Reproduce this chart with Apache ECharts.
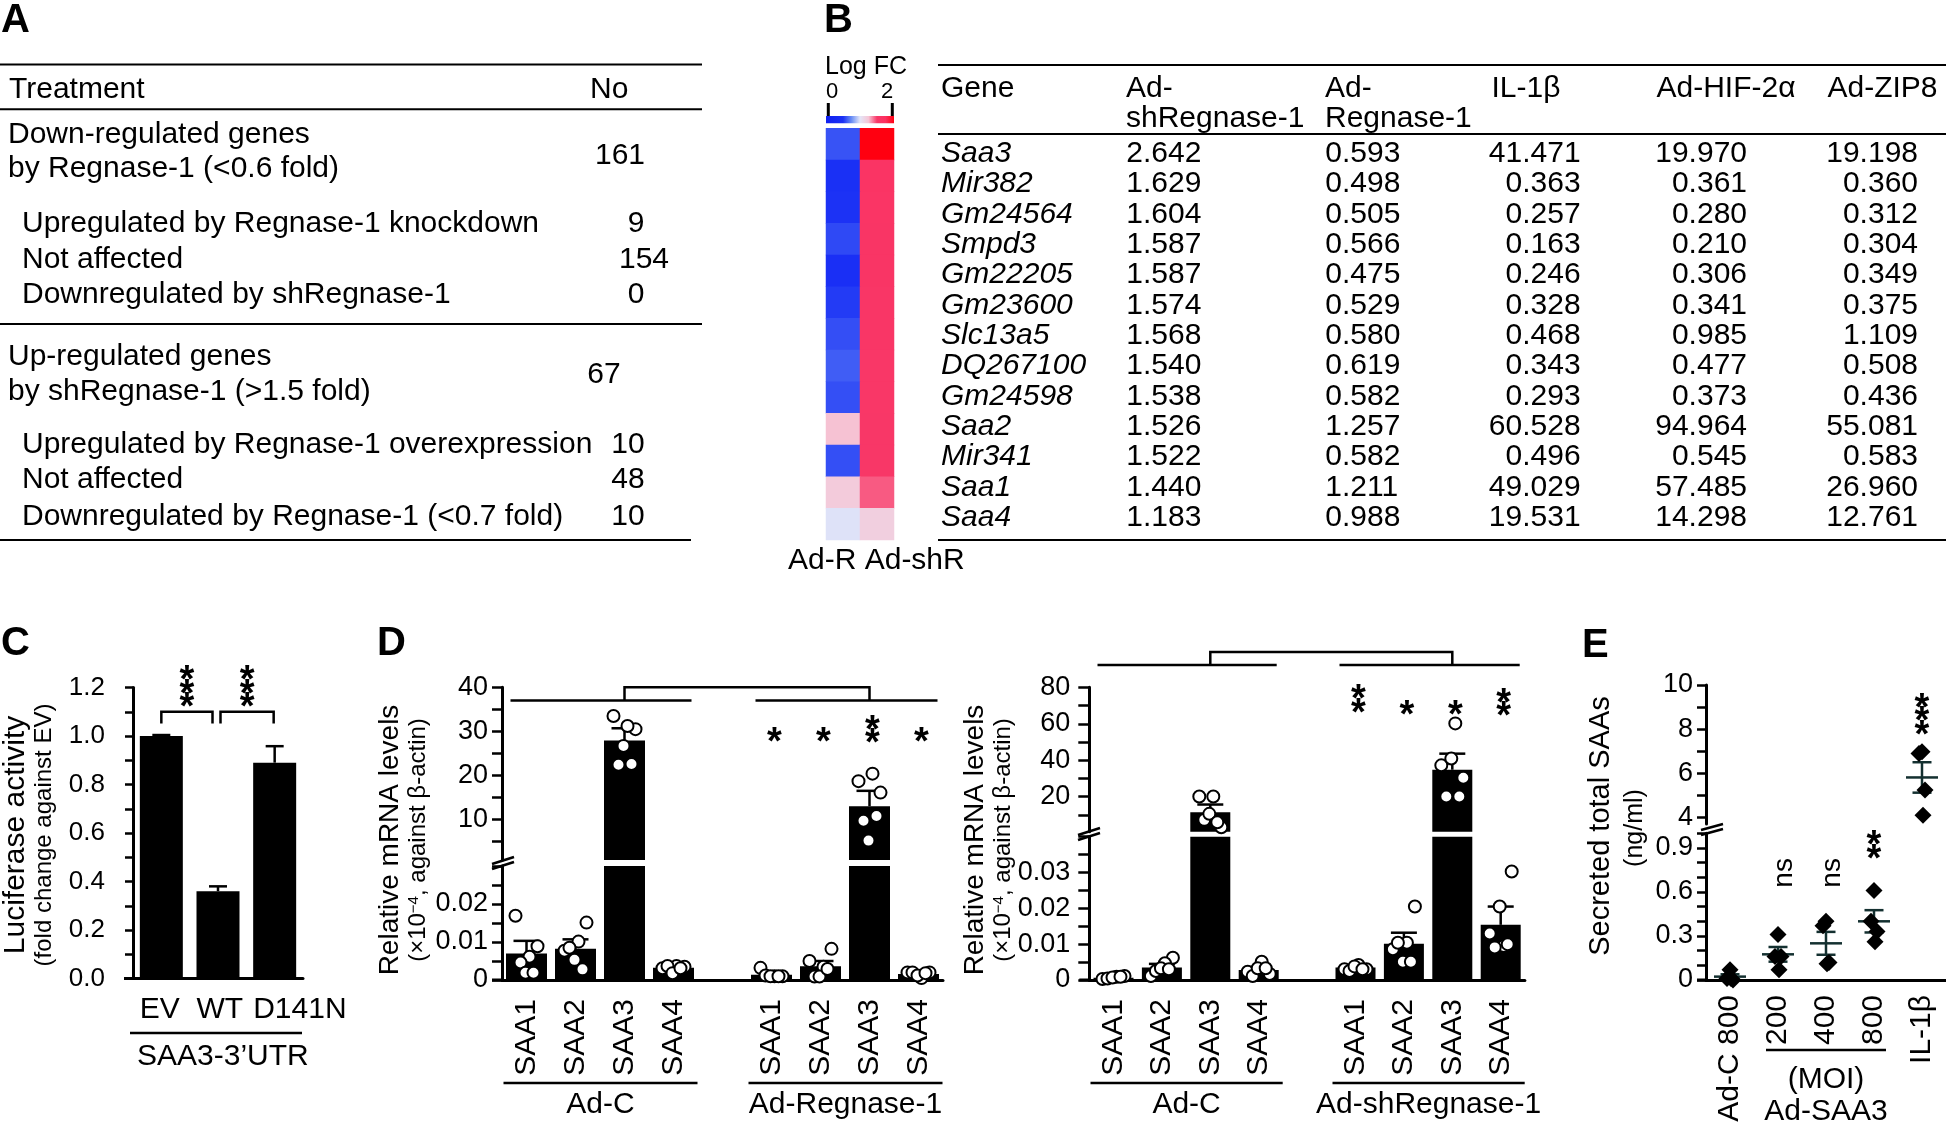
<!DOCTYPE html>
<html><head><meta charset="utf-8">
<script src="https://cdn.jsdelivr.net/npm/echarts@6/dist/echarts.min.js"></script>
<style>html,body{margin:0;padding:0;background:#fff}#c{width:1946px;height:1127px}</style>
</head><body><div id="c"></div>
<script>
// ================= DATA =================
// Panel A table
const aHeader = ['Treatment', 'No'];
const aGroupTitles = [['Down-regulated genes', 'by Regnase-1 (<0.6 fold)'], ['Up-regulated genes', 'by shRegnase-1 (>1.5 fold)']];
const aGroupTotals = ['161', '67'];
const aSubLabels = [['Upregulated by Regnase-1 knockdown', 'Not affected', 'Downregulated by shRegnase-1'],
                    ['Upregulated by Regnase-1 overexpression', 'Not affected', 'Downregulated by Regnase-1 (<0.7 fold)']];
const aSubCounts = [['9', '154', '0'], ['10', '48', '10']];

// Panel B table + heatmap
const bHeaders = [['Gene'], ['Ad-', 'shRegnase-1'], ['Ad-', 'Regnase-1'], ['IL-1β'], ['Ad-HIF-2α'], ['Ad-ZIP8']];
const genes = ['Saa3', 'Mir382', 'Gm24564', 'Smpd3', 'Gm22205', 'Gm23600', 'Slc13a5', 'DQ267100', 'Gm24598', 'Saa2', 'Mir341', 'Saa1', 'Saa4'];
const adShRegnase = [2.642, 1.629, 1.604, 1.587, 1.587, 1.574, 1.568, 1.540, 1.538, 1.526, 1.522, 1.440, 1.183];
const adRegnase = [0.593, 0.498, 0.505, 0.566, 0.475, 0.529, 0.580, 0.619, 0.582, 1.257, 0.582, 1.211, 0.988];
const il1b = [41.471, 0.363, 0.257, 0.163, 0.246, 0.328, 0.468, 0.343, 0.293, 60.528, 0.496, 49.029, 19.531];
const adHif2a = [19.970, 0.361, 0.280, 0.210, 0.306, 0.341, 0.985, 0.477, 0.373, 94.964, 0.545, 57.485, 14.298];
const adZip8 = [19.198, 0.360, 0.312, 0.304, 0.349, 0.375, 1.109, 0.508, 0.436, 55.081, 0.583, 26.960, 12.761];
const heatCols = ['Ad-R', 'Ad-shR'];

// Panel C
const cCats = ['EV', 'WT', 'D141N'];
const cMeans = [1.0, 0.36, 0.89];
const cErr = [0.004, 0.02, 0.068];

// Panel D (categories: 4 Ad-C, gap, 4 treated)
const dCats = ['SAA1', 'SAA2', 'SAA3', 'SAA4', '', 'SAA1', 'SAA2', 'SAA3', 'SAA4'];
const dLeftMeans = [0.0070, 0.0082, 27.9, 0.0032, null, 0.0014, 0.0036, 13.0, 0.0016];
const dLeftSem = [0.0033, 0.0025, 2.8, 0.0004, null, 0.0004, 0.0014, 3.5, 0.0003];
const dLeftPoints = [
  [0.0169, 0.0089, 0.0061, 0.0046, 0.0019, 0.0019],
  [0.0077, 0.0151, 0.0101, 0.0085, 0.0053, 0.0028],
  [33.5, 30.5, 31.2, 22.4, 26.7, 22.6],
  [0.0031, 0.0035, 0.0037, 0.0037, 0.0018, 0.0031],
  [],
  [0.0032, 0.0010, 0.0010, 0.0012, 0.0010, 0.0010],
  [0.0050, 0.0082, 0.0035, 0.0009, 0.0009, 0.0029],
  [18.7, 16.1, 20.4, 9.7, 5.2, 10.8],
  [0.0020, 0.0020, 0.0005, 0.0020, 0.0012, 0.0018]
];
const dRightMeans = [0.0006, 0.0035, 11.5, 0.0028, null, 0.0035, 0.0101, 34.8, 0.0154];
const dRightSem = [0.0002, 0.0010, 4.2, 0.0006, null, 0.0003, 0.0031, 8.8, 0.0051];
const dRightPoints = [
  [0.0003, 0.0011, 0.0009, 0.0004, 0.0007, 0.0009],
  [0.0011, 0.0062, 0.0047, 0.0025, 0.0033, 0.0030],
  [20.1, 3.2, 20.1, 7.3, 10.6, 6.0],
  [0.0023, 0.0017, 0.0051, 0.0011, 0.0033, 0.0033],
  [],
  [0.0030, 0.0030, 0.0042, 0.0025, 0.0038, 0.0030],
  [0.0086, 0.0205, 0.0104, 0.0104, 0.0051, 0.0051],
  [37.2, 30.4, 60.2, 20.1, 40.9, 20.1],
  [0.0130, 0.0303, 0.0095, 0.0091, 0.0205, 0.0100]
];

// Panel E
const eCats = ['Ad-C 800', '200', '400', '800', 'IL-1β'];
const ePoints = [[0.07, 0.01, 0.0, 0.01], [0.31, 0.16, 0.16, 0.07], [0.40, 0.37, 0.12, 0.11], [0.61, 0.40, 0.33, 0.26], [6.97, 6.90, 5.24, 4.10]];
const eMeans = [0.023, 0.175, 0.25, 0.40, 5.81];
const eSem = [0.016, 0.05, 0.078, 0.076, 0.69];

// ================= STYLE / LAYOUT =================
const FF = '"Liberation Sans", Arial, Helvetica, sans-serif';
const FS = 30;
const HEAT_COLORS = ['#1020f0', '#1528f2', '#1a30f5', '#6a8ef5', '#e4e6f8', '#f6c6d6', '#f83868', '#fc3060', '#ff0010'];
const JIT = [-11, 11, 3, -6, -1, 7];
const EJIT = [0, -3, 3, 1];
const range = (a, b, s) => { const r = []; for (let v = a; v <= b + 1e-9; v += s) r.push(Math.round(v * 1000) / 1000); return r; };

const chart = echarts.init(document.getElementById('c'));

const grids = [
  { left: 133, top: 687.5, width: 170, height: 291 },        // 0 C
  { left: 502, top: 687.3, width: 441, height: 172.7 },      // 1 D-left upper
  { left: 502, top: 866, width: 441, height: 114 },          // 2 D-left lower
  { left: 1089.3, top: 687.3, width: 435.6, height: 144.4 }, // 3 D-right upper
  { left: 1089.3, top: 836.7, width: 435.6, height: 143.3 }, // 4 D-right lower
  { left: 1706, top: 685, width: 240, height: 139 },         // 5 E upper
  { left: 1706, top: 833.3, width: 240, height: 146.7 },     // 6 E lower
  { left: 826, top: 128.3, width: 68, height: 411.7 }        // 7 heatmap
].map(g => Object.assign({ containLabel: false, outerBoundsMode: 'none' }, g));

function valAxis(g, min, max, o) {
  const ax = {
    type: 'value', gridIndex: g, min: min, max: max, splitLine: { show: false },
    axisLine: { show: true, lineStyle: { color: '#000', width: 3 } },
    axisTick: { show: true, length: o.tickLen, lineStyle: { color: '#000', width: 2.5 } },
    axisLabel: { show: true, color: '#000', fontSize: o.fs, fontFamily: FF, margin: o.margin,
      formatter: o.fmt || (v => String(v)), showMaxLabel: o.showMax !== false }
  };
  if (o.interval) ax.interval = o.interval;
  if (o.minor) ax.minorTick = { show: true, splitNumber: o.minor, length: o.tickLen, lineStyle: { color: '#000', width: 2.5 } };
  if (o.ticks) ax.axisTick.customValues = o.ticks;
  if (o.labels) ax.axisLabel.customValues = o.labels;
  return ax;
}
function catAxis(g, cats, show, o) {
  o = o || {};
  return {
    type: 'category', gridIndex: g, data: cats.map((c, i) => i + '|' + c), show: show,
    axisLine: { show: true, onZero: false, lineStyle: { color: '#000', width: 3 } },
    axisTick: { show: false },
    axisLabel: { show: !!o.labels, interval: 0, rotate: 90, margin: o.margin || 19, fontSize: FS, fontFamily: FF, color: '#000',
      formatter: v => v.split('|')[1] }
  };
}

const xAxes = [
  catAxis(0, cCats, true),
  catAxis(1, dCats, false),
  catAxis(2, dCats, true, { labels: true, margin: 19 }),
  catAxis(3, dCats, false),
  catAxis(4, dCats, true, { labels: true, margin: 19 }),
  catAxis(5, eCats, false),
  catAxis(6, eCats, true, { labels: true, margin: 15 }),
  { type: 'category', gridIndex: 7, data: heatCols, show: false }
];
const lowFmt = v => (v === 0 ? '0' : String(Math.round(v * 1000) / 1000));
const yAxes = [
  valAxis(0, 0, 1.2, { tickLen: 8, fs: 26, margin: 28, interval: 0.2, minor: 2, fmt: v => v.toFixed(1) }),
  valAxis(1, 0.8, 40, { tickLen: 10, fs: 27, margin: 14, ticks: range(5, 40, 5), labels: [10, 20, 30, 40] }),
  valAxis(2, 0, 0.03, { tickLen: 10, fs: 27, margin: 14, interval: 0.01, minor: 2, showMax: false, fmt: lowFmt }),
  valAxis(3, 0.8, 80, { tickLen: 11, fs: 27, margin: 19, ticks: range(10, 80, 10), labels: [20, 40, 60, 80] }),
  valAxis(4, 0, 0.04, { tickLen: 11, fs: 27, margin: 19, interval: 0.01, minor: 2, showMax: false, fmt: lowFmt }),
  valAxis(5, 3.7, 10, { tickLen: 9, fs: 27, margin: 13, ticks: range(4, 10, 1), labels: [4, 6, 8, 10] }),
  valAxis(6, 0, 1.0, { tickLen: 9, fs: 27, margin: 13, ticks: range(0, 1.0, 0.1), labels: [0, 0.3, 0.6, 0.9],
    fmt: v => (v === 0 ? '0' : v.toFixed(1)) }),
  { type: 'category', gridIndex: 7, data: genes, inverse: true, show: false }
];

function errBar(capW) {
  return function (params, api) {
    const x = api.value(0), m = api.value(1), e = api.value(2);
    const p0 = api.coord([x, m]), p1 = api.coord([x, m + e]);
    return { type: 'group', children: [
      { type: 'line', shape: { x1: p0[0], y1: p0[1], x2: p1[0], y2: p1[1] }, style: { stroke: '#000', lineWidth: 2.5 } },
      { type: 'line', shape: { x1: p1[0] - capW / 2, y1: p1[1], x2: p1[0] + capW / 2, y2: p1[1] }, style: { stroke: '#000', lineWidth: 2.5 } }
    ] };
  };
}
function meanSem(meanW, capW) {
  return function (params, api) {
    const i = api.value(0), m = api.value(1), s = api.value(2);
    const pm = api.coord([i, m]), pt = api.coord([i, m + s]), pb = api.coord([i, Math.max(0, m - s)]);
    const st = { stroke: '#143030', lineWidth: 2.5 };
    return { type: 'group', children: [
      { type: 'line', shape: { x1: pm[0] - meanW / 2, y1: pm[1], x2: pm[0] + meanW / 2, y2: pm[1] }, style: st },
      { type: 'line', shape: { x1: pt[0], y1: pt[1], x2: pb[0], y2: pb[1] }, style: st },
      { type: 'line', shape: { x1: pt[0] - capW / 2, y1: pt[1], x2: pt[0] + capW / 2, y2: pt[1] }, style: st },
      { type: 'line', shape: { x1: pb[0] - capW / 2, y1: pb[1], x2: pb[0] + capW / 2, y2: pb[1] }, style: st }
    ] };
  };
}

const series = [];
const BLACK = { color: '#000' };
// Panel C
series.push({ type: 'bar', xAxisIndex: 0, yAxisIndex: 0, data: cMeans, barWidth: 43, itemStyle: BLACK });
series.push({ type: 'custom', xAxisIndex: 0, yAxisIndex: 0, renderItem: errBar(18), data: cMeans.map((m, i) => [i, m, cErr[i]]) });

// Panel D
function dPanel(means, sems, points, gUp, gLow, upMin, lowMax, barW) {
  [gUp, gLow].forEach(g => series.push({ type: 'bar', xAxisIndex: g, yAxisIndex: g, data: means, barWidth: barW, itemStyle: BLACK }));
  const eUp = [], eLow = [], pUp = [], pLow = [];
  means.forEach((m, i) => {
    if (m === null) return;
    (m >= upMin ? eUp : eLow).push([i, m, sems[i]]);
    points[i].forEach((v, k) => {
      const item = { value: [i, v], symbolOffset: [JIT[k % JIT.length], 0] };
      if (v >= upMin) pUp.push(item); else if (v <= lowMax) pLow.push(item);
    });
  });
  series.push({ type: 'custom', xAxisIndex: gUp, yAxisIndex: gUp, renderItem: errBar(26), data: eUp });
  series.push({ type: 'custom', xAxisIndex: gLow, yAxisIndex: gLow, renderItem: errBar(26), data: eLow });
  [[gUp, pUp], [gLow, pLow]].forEach(([g, d]) => series.push({
    type: 'scatter', xAxisIndex: g, yAxisIndex: g, data: d, symbol: 'circle', symbolSize: 12,
    itemStyle: { color: '#fff', borderColor: '#000', borderWidth: 2, opacity: 1 }
  }));
}
dPanel(dLeftMeans, dLeftSem, dLeftPoints, 1, 2, 0.8, 0.03, 41);
dPanel(dRightMeans, dRightSem, dRightPoints, 3, 4, 0.8, 0.04, 40);

// Panel E
(function () {
  const mUp = [], mLow = [], pUp = [], pLow = [];
  eMeans.forEach((m, i) => {
    (m >= 3.7 ? mUp : mLow).push([i, m, eSem[i]]);
    ePoints[i].forEach((v, k) => {
      const item = { value: [i, v], symbolOffset: [EJIT[k % EJIT.length], 0] };
      if (v >= 3.7) pUp.push(item); else pLow.push(item);
    });
  });
  series.push({ type: 'custom', xAxisIndex: 5, yAxisIndex: 5, renderItem: meanSem(32, 19), data: mUp });
  series.push({ type: 'custom', xAxisIndex: 6, yAxisIndex: 6, renderItem: meanSem(32, 19), data: mLow });
  [[5, pUp], [6, pLow]].forEach(([g, d]) => series.push({
    type: 'scatter', xAxisIndex: g, yAxisIndex: g, data: d, symbol: 'diamond', symbolSize: 17,
    itemStyle: { color: '#000', opacity: 1 }
  }));
})();

// Heatmap
const heatData = [];
genes.forEach((g, i) => { heatData.push([0, i, adRegnase[i]]); heatData.push([1, i, adShRegnase[i]]); });
const heatIndex = series.length;
series.push({ type: 'heatmap', xAxisIndex: 7, yAxisIndex: 7, data: heatData, itemStyle: { borderWidth: 0 } });

chart.setOption({
  animation: false,
  backgroundColor: '#fff',
  textStyle: { fontFamily: FF },
  grid: grids, xAxis: xAxes, yAxis: yAxes, series: series,
  visualMap: [{ type: 'continuous', show: false, min: 0, max: 2, dimension: 2, seriesIndex: heatIndex, inRange: { color: HEAT_COLORS } }]
});

// ================= ANNOTATIONS / TABLES =================
function T(x, y, text, o) {
  o = o || {};
  const st = { text: text, fill: '#000', fontSize: o.size || FS, fontFamily: FF,
    fontStyle: o.italic ? 'italic' : 'normal', fontWeight: o.bold ? 'bold' : 'normal',
    align: o.align || 'left', verticalAlign: o.va || 'middle', textAlign: o.align || 'left', textVerticalAlign: o.va || 'middle' };
  if (o.rich) st.rich = o.rich;
  return { type: 'text', x: x, y: y, rotation: o.rot || 0, z: 100, silent: true, style: st };
}
function L(x1, y1, x2, y2, w) { return { type: 'line', z: 100, silent: true, shape: { x1, y1, x2, y2 }, style: { stroke: '#000', lineWidth: w || 2.5 } }; }
function PL(points, w) { return { type: 'polyline', z: 100, silent: true, shape: { points }, style: { stroke: '#000', lineWidth: w || 2.5, fill: null } }; }
const P = (g, x, y) => chart.convertToPixel({ gridIndex: g }, [x, y]);
const R90 = Math.PI / 2;
const G = [];
// vertical stack of asterisks centred on (x, yc)
function stars(x, yc, n) {
  const pitch = 13.5;
  for (let i = 0; i < n; i++) {
    G.push(T(x, yc + (i - (n - 1) / 2) * pitch + 10, '*', { size: 38, bold: true, align: 'center' }));
  }
}

// Panel letters
G.push(T(1, 21, 'A', { size: 40, bold: true }), T(824, 21, 'B', { size: 40, bold: true }),
       T(1, 644, 'C', { size: 40, bold: true }), T(377, 644, 'D', { size: 40, bold: true }), T(1582, 646, 'E', { size: 40, bold: true }));

// ---- Table A ----
[64.5, 109.2, 324].forEach(y => G.push(L(0, y, 702, y, 2)));
G.push(L(0, 540, 691, 540, 2));
G.push(T(9, 89.5, aHeader[0]), T(590, 89.5, aHeader[1]));
const aTitleY = [[135, 168.4], [356.8, 392]], aTotalY = [155.4, 374.4], aTotalX = [620, 604];
const aSubY = [[224, 259.3, 295.2], [444.9, 480.1, 517]];
const aCountX = [[636, 644, 636], [628, 628, 628]];
aGroupTitles.forEach((lines, gi) => {
  lines.forEach((s, li) => G.push(T(8, aTitleY[gi][li], s)));
  G.push(T(aTotalX[gi], aTotalY[gi], aGroupTotals[gi], { align: 'center' }));
  aSubLabels[gi].forEach((s, k) => {
    G.push(T(22, aSubY[gi][k], s));
    G.push(T(aCountX[gi][k], aSubY[gi][k], aSubCounts[gi][k], { align: 'center' }));
  });
});

// ---- Table B ----
[65, 134, 540].forEach(y => G.push(L(938, y, 1946, y, 2)));
const bHeadX = [941, 1126, 1325, 1491.5, 1656.5, 1827.5];
bHeaders.forEach((lines, c) => lines.forEach((s, li) => G.push(T(bHeadX[c], li ? 118.6 : 88.5, s))));
const rowY = i => 153.7 + i * 30.34;
const fmt3 = v => v.toFixed(3);
genes.forEach((g, i) => {
  const y = rowY(i);
  G.push(T(941, y, g, { italic: true }));
  G.push(T(1126.3, y, fmt3(adShRegnase[i])));
  G.push(T(1325.3, y, fmt3(adRegnase[i])));
  G.push(T(1580.6, y, fmt3(il1b[i]), { align: 'right' }));
  G.push(T(1747, y, fmt3(adHif2a[i]), { align: 'right' }));
  G.push(T(1918, y, fmt3(adZip8[i]), { align: 'right' }));
});
// heatmap legend
G.push(T(825, 67.5, 'Log FC', { size: 25 }), T(826, 92, '0', { size: 22 }), T(881, 92, '2', { size: 22 }));
G.push(L(828.3, 103, 828.3, 116, 3), L(892.3, 103, 892.3, 116, 3));
G.push({ type: 'rect', z: 100, silent: true, shape: { x: 826, y: 116, width: 68, height: 7.3 },
  style: { fill: { type: 'linear', x: 0, y: 0, x2: 1, y2: 0,
    colorStops: HEAT_COLORS.map((c, i) => ({ offset: i / (HEAT_COLORS.length - 1), color: c })) } } });
G.push(T(788, 561, heatCols[0] + ' ' + heatCols[1]));

// ---- Panel C ----
{
  const yTop = P(0, 0, 1.1)[1], yLeg = P(0, 0, 1.052)[1], yStar = P(0, 0, 1.21)[1];
  const x0 = P(0, 0, 0)[0], x1 = P(0, 1, 0)[0], x2 = P(0, 2, 0)[0];
  const b1 = [x0, x1 - 5.5], b2 = [x1 + 2.5, x2 - 1];
  [b1, b2].forEach(b => {
    G.push(PL([[b[0], yLeg], [b[0], yTop], [b[1], yTop], [b[1], yLeg]]));
    stars((b[0] + b[1]) / 2, yStar, 3);
  });
  cCats.forEach((c, i) => G.push(T(P(0, i, 0)[0] - 21.5, 1010, c)));
  G.push(L(130, 1033, 302, 1033, 2.5), T(137, 1057, 'SAA3-3’UTR'));
  G.push(L(124, 978.5, 133, 978.5, 3));
  G.push(T(16, 835, 'Luciferase activity', { size: 30, rot: R90, align: 'center' }));
  G.push(T(44, 835, '(fold change against EV)', { size: 24, rot: R90, align: 'center' }));
}

// ---- Panel D ----
const supRich = { sup: { fontSize: 15, fontFamily: FF, verticalAlign: 'top', fill: '#000' } };
function dAnnot(gUp, gLow, lineVal, topVal, starList, groupNames, titleX, subX, brk) {
  const cx = i => P(gUp, i, 1)[0];
  const yl = P(gUp, 0, lineVal)[1], yt = P(gUp, 0, topVal)[1];
  G.push(L(cx(0) - 16, yl, cx(3) + 18, yl), L(cx(5) - 16, yl, cx(8) + 19, yl));
  G.push(PL([[cx(2), yl], [cx(2), yt], [cx(7), yt], [cx(7), yl]]));
  starList.forEach(s => stars(cx(s[0]) + 3, P(gUp, 0, s[2])[1], s[1]));
  [[0, 3, groupNames[0]], [5, 8, groupNames[1]]].forEach(([a, b, name]) => {
    const xa = cx(a) - 23, xb = cx(b) + 24;
    G.push(L(xa, 1083, xb, 1083, 2.5), T((xa + xb) / 2, 1105, name, { align: 'center' }));
  });
  const gl = grids[gLow];
  G.push(L(gl.left - 10, gl.top + gl.height, gl.left, gl.top + gl.height, 3));
  G.push(T(titleX, 840, 'Relative mRNA levels', { size: 28, rot: R90, align: 'center' }));
  G.push(T(subX, 840, '(×10{sup|−4}, against β-actin)', { size: 24, rot: R90, align: 'center', rich: supRich }));
  G.push(L(brk[0] - 11, brk[1] + 1, brk[0] + 11, brk[1] - 6, 2.5), L(brk[0] - 11, brk[1] + 6, brk[0] + 11, brk[1] - 1, 2.5));
}
dAnnot(1, 2, 37, 40, [[5, 1, 29.5], [6, 1, 29.5], [7, 2, 30.8], [8, 1, 29.5]], ['Ad-C', 'Ad-Regnase-1'], 390, 418, [503, 863]);
dAnnot(3, 4, 92.2, 99.4, [[5, 2, 74.4], [6, 1, 69.7], [7, 1, 69.7], [8, 2, 72.5]], ['Ad-C', 'Ad-shRegnase-1'], 975, 1003, [1089, 834]);

// ---- Panel E ----
{
  const cx = i => P(6, i, 0)[0];
  G.push(T(cx(1) + 6, P(6, 0, 0.73)[1], 'ns', { size: 28, rot: R90, align: 'center' }));
  G.push(T(cx(2) + 6, P(6, 0, 0.73)[1], 'ns', { size: 28, rot: R90, align: 'center' }));
  stars(cx(3), P(6, 0, 0.93)[1], 2);
  stars(cx(4), P(5, 0, 8.75)[1], 3);
  G.push(L(cx(1) - 12, 1050, cx(3) + 12, 1050, 2.5));
  G.push(T(cx(2), 1080, '(MOI)', { align: 'center' }), T(cx(2), 1112, 'Ad-SAA3', { align: 'center' }));
  G.push(L(1697, 980, 1706, 980, 3));
  G.push(T(1601, 826, 'Secreted total SAAs', { size: 29, rot: R90, align: 'center' }));
  G.push(T(1635, 828, '(ng/ml)', { size: 25, rot: R90, align: 'center' }));
  G.push(L(1701, 830, 1723, 824, 2.5), L(1701, 835, 1723, 829, 2.5));
}

chart.setOption({ graphic: { elements: G } });
</script>
</body></html>
